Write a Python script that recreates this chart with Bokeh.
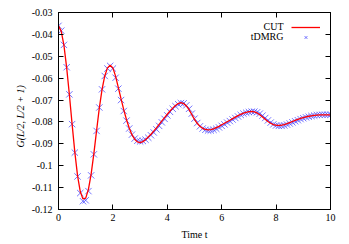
from bokeh.plotting import figure
from bokeh.models import LinearAxis, FixedTicker, Legend, LegendItem, ColumnDataSource, Label, Title
from bokeh.embed import file_html
from bokeh.resources import INLINE

# ---- data ----
t_vals = [0.0, 0.1, 0.2, 0.3, 0.4, 0.5, 0.6, 0.7, 0.8, 0.9,
          1.0, 1.1, 1.2, 1.3, 1.4, 1.5, 1.6, 1.7, 1.8, 1.9,
          2.0, 2.1, 2.2, 2.3, 2.4, 2.5, 2.6, 2.7, 2.8, 2.9,
          3.0, 3.1, 3.2, 3.3, 3.4, 3.5, 3.6, 3.7, 3.8, 3.9,
          4.0, 4.1, 4.2, 4.3, 4.4, 4.5, 4.6, 4.7, 4.8, 4.9,
          5.0, 5.1, 5.2, 5.3, 5.4, 5.5, 5.6, 5.7, 5.8, 5.9,
          6.0, 6.1, 6.2, 6.3, 6.4, 6.5, 6.6, 6.7, 6.8, 6.9,
          7.0, 7.1, 7.2, 7.3, 7.4, 7.5, 7.6, 7.7, 7.8, 7.9,
          8.0, 8.1, 8.2, 8.3, 8.4, 8.5, 8.6, 8.7, 8.8, 8.9,
          9.0, 9.1, 9.2, 9.3, 9.4, 9.5, 9.6, 9.7, 9.8, 9.9,
          10.0]

cut_vals = [-0.0361, -0.0385, -0.0450, -0.0552, -0.0676, -0.0810, -0.0938, -0.1045, -0.1118, -0.1152,
            -0.1148, -0.1108, -0.1038, -0.0945, -0.0840, -0.0737, -0.0652, -0.0590, -0.0553, -0.0541,
            -0.0553, -0.0592, -0.0643, -0.0695, -0.0745, -0.0790, -0.0828, -0.0858, -0.0879, -0.0891,
            -0.0894, -0.0890, -0.0881, -0.0869, -0.0856, -0.0842, -0.0827, -0.0811, -0.0795, -0.0780,
            -0.0765, -0.0750, -0.0737, -0.0725, -0.0716, -0.0712, -0.0716, -0.0727, -0.0744, -0.0766,
            -0.0788, -0.0806, -0.0820, -0.0829, -0.0834, -0.0836, -0.0835, -0.0832, -0.0826, -0.0820,
            -0.0813, -0.0806, -0.0799, -0.0792, -0.0785, -0.0778, -0.0771, -0.0765, -0.0760, -0.0756,
            -0.0753, -0.0752, -0.0754, -0.0759, -0.0767, -0.0777, -0.0788, -0.0798, -0.0806, -0.0812,
            -0.0815, -0.0816, -0.0815, -0.0812, -0.0808, -0.0803, -0.0798, -0.0793, -0.0788, -0.0784,
            -0.0780, -0.0777, -0.0774, -0.0772, -0.0770, -0.0769, -0.0768, -0.0768, -0.0768, -0.0768,
            -0.0768]

dmrg_vals = [-0.0361, -0.0383, -0.0448, -0.0550, -0.0674, -0.0810, -0.0940, -0.1049, -0.1125, -0.1162,
             -0.1158, -0.1116, -0.1044, -0.0948, -0.0841, -0.0734, -0.0651, -0.0590, -0.0556, -0.0544,
             -0.0556, -0.0598, -0.0648, -0.0700, -0.0750, -0.0794, -0.0830, -0.0858, -0.0876, -0.0886,
             -0.0889, -0.0887, -0.0881, -0.0872, -0.0861, -0.0848, -0.0834, -0.0818, -0.0802, -0.0786,
             -0.0770, -0.0754, -0.0740, -0.0728, -0.0719, -0.0714, -0.0715, -0.0724, -0.0740, -0.0762,
             -0.0785, -0.0805, -0.0820, -0.0830, -0.0836, -0.0839, -0.0839, -0.0836, -0.0831, -0.0825,
             -0.0818, -0.0811, -0.0803, -0.0796, -0.0789, -0.0782, -0.0775, -0.0768, -0.0762, -0.0758,
             -0.0755, -0.0753, -0.0753, -0.0756, -0.0762, -0.0771, -0.0782, -0.0793, -0.0803, -0.0811,
             -0.0816, -0.0818, -0.0818, -0.0816, -0.0812, -0.0807, -0.0802, -0.0797, -0.0792, -0.0787,
             -0.0783, -0.0779, -0.0776, -0.0773, -0.0771, -0.0769, -0.0768, -0.0767, -0.0767, -0.0767,
             -0.0767]

series_names = ["CUT", "tDMRG"]

x_ticks = [0, 2, 4, 6, 8, 10]
x_tick_labels = ["0", "2", "4", "6", "8", "10"]
y_ticks = [-0.12, -0.11, -0.1, -0.09, -0.08, -0.07, -0.06, -0.05, -0.04, -0.03]
y_tick_labels = ["-0.12", "-0.11", "-0.1", "-0.09", "-0.08", "-0.07", "-0.06", "-0.05", "-0.04", "-0.03"]

x_title = "Time t"
y_title = "G(L/2, L/2 + 1)"

FONT = "Liberation Serif"
FS = "10px"

p = figure(width=345, height=243, x_range=(0, 10), y_range=(-0.12, -0.03),
           output_backend="svg", toolbar_location=None,
           min_border_left=58, min_border_right=15, min_border_top=12, min_border_bottom=34)
p.grid.visible = False
p.outline_line_color = "black"
p.outline_line_width = 1
p.background_fill_color = "white"
p.border_fill_color = "white"

cut_src = ColumnDataSource(dict(t=t_vals, g=cut_vals))
dmrg_src = ColumnDataSource(dict(t=t_vals, g=dmrg_vals))

r_dmrg = p.scatter("t", "g", source=dmrg_src, marker="x", size=9,
                   line_color="#4646ff", line_alpha=0.75, line_width=1.0)
r_cut = p.line("t", "g", source=cut_src, line_color="#ff0000", line_width=1.3)


def style_axis(ax, ticks, labels, show_labels=True):
    ax.ticker = FixedTicker(ticks=ticks)
    ax.minor_tick_line_color = None
    ax.major_tick_in = 5
    ax.major_tick_out = 0
    ax.axis_line_color = "black"
    ax.major_tick_line_color = "black"
    if show_labels:
        ax.major_label_overrides = {tk: lb for tk, lb in zip(ticks, labels)}
        ax.major_label_text_font = FONT
        ax.major_label_text_font_size = FS
        ax.major_label_text_color = "black"
    else:
        ax.major_label_text_color = None
        ax.major_label_standoff = 0
    ax.axis_label_text_font = FONT
    ax.axis_label_text_font_size = FS
    ax.axis_label_text_font_style = "normal"
    ax.axis_label_text_color = "black"


xa = p.xaxis[0]
ya = p.yaxis[0]
style_axis(xa, x_ticks, x_tick_labels)
style_axis(ya, y_ticks, y_tick_labels)
xa.axis_label = x_title
xa.major_label_standoff = 4
xa.axis_label_standoff = 5
ya.major_label_standoff = 6

# y title, rotated; start of the text placed so that it is centred like the reference
p.add_layout(Title(text=y_title, align="left", offset=62, text_font=FONT, text_font_size=FS,
                   text_font_style="italic", text_color="black", standoff=5), "left")

ra = LinearAxis()
style_axis(ra, y_ticks, y_tick_labels, show_labels=False)
p.add_layout(ra, "right")
ta = LinearAxis()
style_axis(ta, x_ticks, x_tick_labels, show_labels=False)
p.add_layout(ta, "above")

# gnuplot-style key: sample to the right of right-aligned text
legend = Legend(items=[LegendItem(label=" ", renderers=[r_cut]),
                       LegendItem(label=" ", renderers=[r_dmrg])],
                location="top_right")
legend.border_line_color = None
legend.background_fill_alpha = 0
legend.label_text_font = FONT
legend.label_text_font_size = FS
legend.glyph_width = 29
legend.glyph_height = 10
legend.label_height = 10
legend.label_width = 0
legend.label_standoff = 0
legend.spacing = 0
legend.padding = 0
legend.margin = 10
p.add_layout(legend)

for name, sy in zip(series_names, [183, 173]):
    p.add_layout(Label(x=225, y=sy, x_units="screen", y_units="screen", text=name,
                       text_align="right", text_baseline="middle",
                       text_font=FONT, text_font_size=FS, text_color="black"))

open("out.html", "w").write(file_html(p, INLINE))
